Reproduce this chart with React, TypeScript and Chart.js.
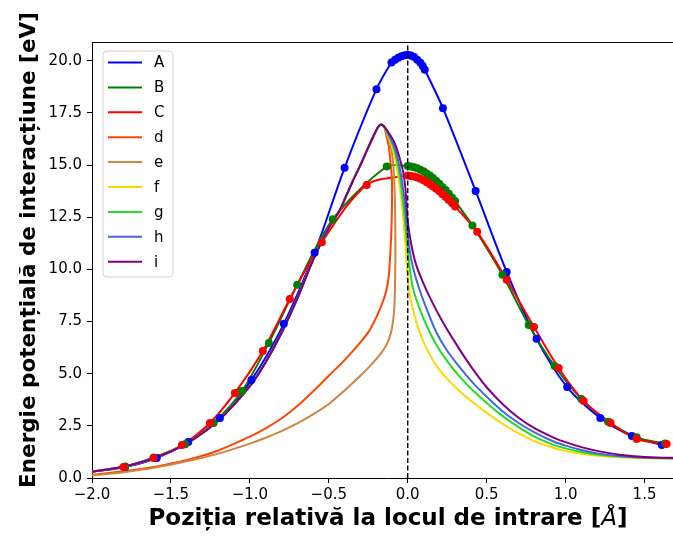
import React, { useEffect, useRef } from "react";
import { Chart, registerables } from "chart.js";

Chart.register(...registerables);

// ---------- labels / styling data ----------
const seriesLabels = ["A", "B", "C", "d", "e", "f", "g", "h", "i"];
const seriesColors = ["#0000ff", "#008000", "#ff0000", "#ff4500", "#cd853f", "#ffd700", "#22dd22", "#4169e1", "#800080"];

const xTicks = [-2.0, -1.5, -1.0, -0.5, 0.0, 0.5, 1.0, 1.5];
const yTicks = [0, 2.5, 5, 7.5, 10, 12.5, 15, 17.5, 20];
const xLimits = [-2.0, 1.75];
const yLimits = [0, 20.9];

const xTitleParts = ["Poziția relativă la locul de intrare [", "Å", "]"];
const yTitle = "Energie potențială de interacțiune [eV]";

// ---------- series A, B, C (markers) ----------
const lineStart = { x: -2.0, y: 0.3 };

const aX = [-1.79, -1.59, -1.39, -1.19, -0.99, -0.785, -0.59, -0.40, -0.198, -0.103, -0.08, -0.06, -0.04, -0.02, 0.0, 0.02, 0.04, 0.06, 0.08, 0.095, 0.108, 0.223, 0.43, 0.627, 0.816, 1.01, 1.22, 1.42, 1.61];
const aY = [0.53, 0.96, 1.73, 2.88, 4.70, 7.39, 10.8, 14.87, 18.64, 19.92, 20.05, 20.15, 20.22, 20.27, 20.29, 20.25, 20.18, 20.05, 19.9, 19.75, 19.57, 17.73, 13.76, 9.88, 6.67, 4.36, 2.88, 2.01, 1.58];

const bX = [-1.79, -1.61, -1.41, -1.23, -1.05, -0.88, -0.70, -0.475, -0.133, 0.0, 0.02, 0.04, 0.06, 0.08, 0.10, 0.12, 0.14, 0.16, 0.18, 0.20, 0.22, 0.24, 0.26, 0.28, 0.30, 0.41, 0.60, 0.766, 0.93, 1.10, 1.27, 1.45, 1.63];
const bY = [0.55, 0.98, 1.62, 2.64, 4.17, 6.47, 9.26, 12.4, 14.93, 14.95, 14.93, 14.9, 14.85, 14.78, 14.7, 14.6, 14.5, 14.38, 14.25, 14.1, 13.95, 13.8, 13.63, 13.45, 13.28, 12.1, 9.74, 7.34, 5.37, 3.79, 2.7, 1.95, 1.65];

const cX = [-1.80, -1.61, -1.43, -1.253, -1.095, -0.918, -0.747, -0.544, -0.26, 0.0, 0.02, 0.04, 0.06, 0.08, 0.10, 0.12, 0.14, 0.16, 0.18, 0.20, 0.22, 0.24, 0.26, 0.28, 0.30, 0.44, 0.627, 0.80, 0.956, 1.114, 1.285, 1.45, 1.64];
const cY = [0.53, 0.96, 1.58, 2.64, 4.08, 6.09, 8.58, 11.3, 14.05, 14.5, 14.48, 14.45, 14.4, 14.34, 14.27, 14.18, 14.08, 13.97, 13.86, 13.74, 13.6, 13.47, 13.33, 13.18, 13.02, 11.8, 9.5, 7.24, 5.27, 3.69, 2.64, 1.87, 1.63];

// ---------- series d..i (shared rise, individual tails) ----------
const riseX = [-2.0, -1.8, -1.6, -1.4, -1.2, -1.0, -0.9, -0.8, -0.7, -0.6, -0.5, -0.43, -0.4, -0.35, -0.3, -0.25, -0.21, -0.19, -0.17, -0.15];
const riseY = [0.3, 0.54, 0.97, 1.66, 2.75, 4.4, 5.55, 6.95, 8.6, 10.45, 12.0, 12.85, 13.35, 14.2, 15.0, 15.85, 16.5, 16.8, 16.95, 16.85];

const dX = [-0.135, -0.12, -0.11, -0.1, -0.1, -0.103, -0.11, -0.12, -0.135, -0.16, -0.19, -0.24, -0.3, -0.4, -0.5, -0.6, -0.7, -0.8, -0.9, -1.0, -1.2, -1.4, -1.6, -1.8, -2.0];
const dY = [16.4, 15.9, 15.2, 14.3, 13.0, 12.0, 10.8, 9.7, 9.0, 8.4, 7.85, 7.1, 6.5, 5.65, 4.9, 4.15, 3.45, 2.85, 2.38, 1.98, 1.32, 0.86, 0.54, 0.32, 0.15];

const eX = [-0.13, -0.11, -0.095, -0.085, -0.08, -0.078, -0.08, -0.083, -0.09, -0.105, -0.13, -0.16, -0.19, -0.25, -0.3, -0.4, -0.5, -0.6, -0.7, -0.8, -0.9, -1.0, -1.2, -1.4, -1.6, -1.8, -2.0];
const eY = [16.45, 16.0, 15.3, 14.2, 12.8, 11.0, 9.5, 8.5, 7.7, 7.0, 6.45, 6.08, 5.78, 5.28, 4.9, 4.2, 3.55, 3.05, 2.62, 2.25, 1.93, 1.65, 1.17, 0.8, 0.5, 0.28, 0.12];

const fX = [-0.13, -0.1, -0.08, -0.06, -0.04, -0.03, -0.015, 0.0, 0.02, 0.05, 0.08, 0.12, 0.18, 0.25, 0.33, 0.42, 0.5, 0.6, 0.7, 0.8, 0.92, 1.0, 1.1, 1.2, 1.34, 1.5, 1.75];
const fY = [16.5, 15.9, 15.3, 14.5, 13.3, 12.6, 11.2, 9.6, 8.5, 7.6, 6.9, 6.2, 5.4, 4.75, 4.15, 3.58, 3.12, 2.6, 2.15, 1.78, 1.45, 1.3, 1.16, 1.07, 0.99, 0.95, 0.93];

const gX = [-0.13, -0.1, -0.08, -0.06, -0.04, -0.02, 0.0, 0.03, 0.076, 0.12, 0.18, 0.25, 0.33, 0.42, 0.5, 0.6, 0.7, 0.8, 0.92, 1.0, 1.1, 1.2, 1.34, 1.5, 1.75];
const gY = [16.55, 16.05, 15.6, 14.9, 13.9, 12.5, 10.9, 9.2, 8.1, 7.3, 6.4, 5.6, 4.85, 4.15, 3.6, 2.98, 2.45, 2.0, 1.6, 1.42, 1.25, 1.13, 1.03, 0.97, 0.93];

const hX = [-0.13, -0.1, -0.08, -0.06, -0.04, -0.02, 0.0, 0.03, 0.076, 0.12, 0.18, 0.25, 0.33, 0.42, 0.5, 0.6, 0.7, 0.8, 0.92, 1.0, 1.1, 1.2, 1.34, 1.5, 1.75];
const hY = [16.6, 16.15, 15.8, 15.2, 14.4, 13.3, 11.6, 10.2, 9.0, 8.1, 7.0, 6.1, 5.3, 4.5, 3.9, 3.2, 2.65, 2.2, 1.76, 1.55, 1.34, 1.18, 1.05, 0.98, 0.94];

const iX = [-0.13, -0.1, -0.08, -0.05, -0.03, -0.015, 0.0, 0.02, 0.05, 0.09, 0.15, 0.22, 0.3, 0.4, 0.5, 0.6, 0.7, 0.8, 0.92, 1.0, 1.1, 1.2, 1.34, 1.5, 1.75];
const iY = [16.65, 16.3, 16.0, 15.3, 14.7, 13.9, 12.3, 11.3, 10.3, 9.5, 8.5, 7.5, 6.5, 5.35, 4.35, 3.55, 2.9, 2.4, 1.95, 1.72, 1.48, 1.3, 1.12, 1.01, 0.95];

// ---------- helpers ----------
const toPts = (xs: number[], ys: number[]) => xs.map((x, k) => ({ x, y: ys[k] }));
const riseThen = (xs: number[], ys: number[]) => [...toPts(riseX, riseY), ...toPts(xs, ys)];
const fmt = (v: number) => (Math.abs(v) < 1e-9 ? 0 : v).toFixed(1).replace("-", "\u2212");

const FONT = "'DejaVu Sans', 'Noto Sans', sans-serif";

const decorPlugin = {
  id: "decor",
  afterDraw(chart: any) {
    const { ctx, chartArea } = chart;
    const { left, right, top, bottom } = chartArea;
    ctx.save();
    // top + right spines
    ctx.strokeStyle = "#000";
    ctx.lineWidth = 1;
    ctx.beginPath();
    ctx.moveTo(left, top + 0.5);
    ctx.lineTo(right, top + 0.5);
    ctx.moveTo(right - 0.5, top);
    ctx.lineTo(right - 0.5, bottom);
    ctx.stroke();

    // legend (matplotlib style, upper left)
    const lx = left + 11, ly = top + 9, lw = 70, lh = 226, r = 4;
    ctx.beginPath();
    ctx.moveTo(lx + r, ly);
    ctx.lineTo(lx + lw - r, ly);
    ctx.arcTo(lx + lw, ly, lx + lw, ly + r, r);
    ctx.lineTo(lx + lw, ly + lh - r);
    ctx.arcTo(lx + lw, ly + lh, lx + lw - r, ly + lh, r);
    ctx.lineTo(lx + r, ly + lh);
    ctx.arcTo(lx, ly + lh, lx, ly + lh - r, r);
    ctx.lineTo(lx, ly + r);
    ctx.arcTo(lx, ly, lx + r, ly, r);
    ctx.closePath();
    ctx.fillStyle = "rgba(255,255,255,0.8)";
    ctx.fill();
    ctx.strokeStyle = "#d0d0d0";
    ctx.lineWidth = 1;
    ctx.stroke();
    ctx.font = `15px ${FONT}`;
    ctx.textBaseline = "middle";
    ctx.textAlign = "left";
    seriesLabels.forEach((lab, k) => {
      const yy = ly + 11.5 + k * 24.9;
      ctx.strokeStyle = seriesColors[k];
      ctx.lineWidth = 2;
      ctx.beginPath();
      ctx.moveTo(lx + 5, yy);
      ctx.lineTo(lx + 39, yy);
      ctx.stroke();
      ctx.fillStyle = "#000";
      ctx.fillText(lab, lx + 51, yy + 1);
    });

    // x title with italic Å
    const boldF = `bold 23px ${FONT}`;
    const italF = `italic 23px ${FONT}`;
    const fonts = [boldF, italF, boldF];
    const widths = xTitleParts.map((t, k) => {
      ctx.font = fonts[k];
      return ctx.measureText(t).width;
    });
    const total = widths.reduce((s, w) => s + w, 0);
    let cx = (left + right) / 2 - total / 2;
    ctx.fillStyle = "#000";
    ctx.textBaseline = "alphabetic";
    xTitleParts.forEach((t, k) => {
      ctx.font = fonts[k];
      ctx.fillText(t, cx, 525);
      cx += widths[k];
    });

    // y title
    ctx.save();
    ctx.translate(35, 250);
    ctx.rotate(-Math.PI / 2);
    ctx.font = `bold 21.5px ${FONT}`;
    ctx.textAlign = "center";
    ctx.fillText(yTitle, 0, 0);
    ctx.restore();

    ctx.restore();
  },
};

export default function App() {
  const ref = useRef<HTMLCanvasElement | null>(null);

  useEffect(() => {
    if (!ref.current) return;
    const lineDs = (k: number, data: any[], order: number) => ({
      label: seriesLabels[k],
      data,
      showLine: true,
      borderColor: seriesColors[k],
      backgroundColor: seriesColors[k],
      borderWidth: 2,
      pointRadius: 0,
      pointHoverRadius: 0,
      tension: 0.3,
      order,
    });
    const markDs = (k: number, data: any[], order: number) => ({
      label: seriesLabels[k] + "_pts",
      data,
      showLine: false,
      borderColor: seriesColors[k],
      backgroundColor: seriesColors[k],
      pointRadius: 4,
      pointBorderWidth: 0,
      order,
    });

    const chart = new Chart(ref.current, {
      type: "scatter",
      data: {
        datasets: [
          {
            label: "x0",
            data: [
              { x: 0, y: yLimits[0] },
              { x: 0, y: yLimits[1] },
            ],
            showLine: true,
            borderColor: "#000",
            borderWidth: 1.4,
            borderDash: [5, 2.5],
            pointRadius: 0,
            order: 0,
          } as any,
          markDs(2, toPts(cX, cY), 1),
          markDs(1, toPts(bX, bY), 2),
          markDs(0, toPts(aX, aY), 3),
          lineDs(8, riseThen(iX, iY), 4),
          lineDs(7, riseThen(hX, hY), 5),
          lineDs(6, riseThen(gX, gY), 6),
          lineDs(5, riseThen(fX, fY), 7),
          lineDs(4, riseThen(eX, eY), 8),
          lineDs(3, riseThen(dX, dY), 9),
          lineDs(2, [lineStart, ...toPts(cX, cY)], 10),
          lineDs(1, [lineStart, ...toPts(bX, bY)], 11),
          lineDs(0, [lineStart, ...toPts(aX, aY)], 12),
        ],
      },
      options: {
        animation: false,
        responsive: false,
        maintainAspectRatio: false,
        layout: { padding: { left: 0, right: 6, top: 42, bottom: 0 } },
        plugins: {
          legend: { display: false },
          tooltip: { enabled: false },
        },
        scales: {
          x: {
            type: "linear",
            min: xLimits[0],
            max: xLimits[1],
            afterBuildTicks: (s: any) => {
              s.ticks = xTicks.map((v) => ({ value: v }));
            },
            afterFit: (s: any) => {
              s.height = 66;
            },
            ticks: {
              autoSkip: false,
              maxRotation: 0,
              padding: 3,
              color: "#000",
              font: { family: FONT, size: 15 },
              callback: (v: any) => fmt(Number(v)),
            },
            grid: { drawOnChartArea: false, drawTicks: true, tickLength: 5, color: "#000", lineWidth: 1 },
            border: { display: true, color: "#000", width: 1 },
          },
          y: {
            type: "linear",
            min: yLimits[0],
            max: yLimits[1],
            afterBuildTicks: (s: any) => {
              s.ticks = yTicks.map((v) => ({ value: v }));
            },
            afterFit: (s: any) => {
              s.width = 92;
            },
            ticks: {
              autoSkip: false,
              padding: 5,
              color: "#000",
              font: { family: FONT, size: 15 },
              callback: (v: any) => fmt(Number(v)),
            },
            grid: { drawOnChartArea: false, drawTicks: true, tickLength: 5, color: "#000", lineWidth: 1 },
            border: { display: true, color: "#000", width: 1 },
          },
        },
      },
      plugins: [decorPlugin],
    });
    return () => chart.destroy();
  }, []);

  return (
    <div style={{ position: "fixed", left: 0, top: 0, width: 673, height: 544, overflow: "hidden", background: "#fff" }}>
      <canvas ref={ref} width={690} height={544} style={{ width: 690, height: 544, display: "block" }} />
    </div>
  );
}
